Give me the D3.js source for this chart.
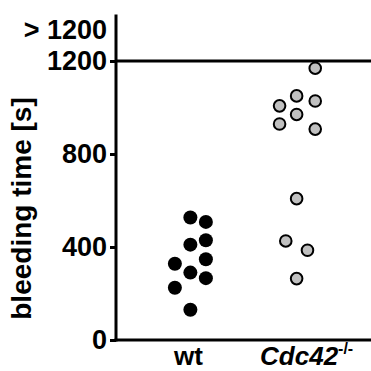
<!DOCTYPE html>
<html>
<head>
<meta charset="utf-8">
<script src="https://cdn.jsdelivr.net/npm/d3@7"></script>
<style>
  html, body { margin: 0; padding: 0; background: #fff; }
  svg { display: block; font-family: "Liberation Sans", Arial, sans-serif; font-weight: bold; }
</style>
</head>
<body>
<svg id="chart" width="371" height="371"></svg>
<script>
// ---- data ----
const categories = ["wt", "Cdc42"];
const wtValues  = [527, 508, 429, 410, 328, 347, 290, 266, 225, 130];
const wtJitter  = [0, 1, 1, 0, -1, 1, 0, 1, -1, 0];
const cdcValues = [1169, 1050, 1028, 1007, 970, 929, 907, 608, 426, 386, 264];
const cdcJitter = [1.2, 0, 1.2, -1.1, 0, -1.1, 1.2, 0, -0.7, 0.7, 0];
const yTickValues = [0, 400, 800, 1200];
const overLabel = "> 1200";
const overValue = 1335;
const yTitle = "bleeding time [s]";

// ---- layout ----
const svg = d3.select("#chart");
const mLeft = 116, mRight = 371, mTop = 14.5, mBottom = 340;
const FS = 27;

const y = d3.scaleLinear().domain([0, 1400]).range([mBottom, mTop]);
const x = d3.scalePoint().domain(categories).range([mLeft, mRight]).padding(0.7);
const jit = d3.scaleLinear().domain([-1, 1]).range([-15.5, 15.5]);

// y axis
const yAxis = d3.axisLeft(y).tickValues(yTickValues).tickSize(6).tickPadding(3).tickFormat(d3.format("d"));
const gy = svg.append("g").attr("transform", `translate(${mLeft},0)`).call(yAxis);
gy.select(".domain").remove();
gy.selectAll(".tick line").attr("stroke", "#000").attr("stroke-width", 3);
gy.selectAll(".tick text").attr("font-size", FS).attr("font-weight", "bold").attr("fill", "#000")
  .attr("font-family", "Liberation Sans, Arial, sans-serif");

// vertical axis line
svg.append("line").attr("x1", mLeft).attr("x2", mLeft).attr("y1", mTop).attr("y2", mBottom + 1.5)
  .attr("stroke", "#000").attr("stroke-width", 3);
// bottom line
svg.append("line").attr("x1", mLeft - 1.5).attr("x2", mRight).attr("y1", y(0)).attr("y2", y(0))
  .attr("stroke", "#000").attr("stroke-width", 3);
// 1200 line
svg.append("line").attr("x1", mLeft).attr("x2", mRight).attr("y1", y(1200)).attr("y2", y(1200))
  .attr("stroke", "#000").attr("stroke-width", 3);

// > 1200 label
svg.append("text").attr("x", mLeft - 9).attr("y", y(overValue)).attr("dy", "0.35em")
  .attr("text-anchor", "end").attr("font-size", FS).text(overLabel);

// y title
svg.append("text")
  .attr("transform", `translate(31,${(y(0) + y(1200)) / 2 + 8}) rotate(-90)`)
  .attr("text-anchor", "middle").attr("font-size", 28).text(yTitle);

// x labels
svg.append("text").attr("x", x("wt") - 2).attr("y", 365).attr("text-anchor", "middle")
  .attr("font-size", 26).text("wt");
const ct = svg.append("text").attr("x", x("Cdc42") + 10).attr("y", 365).attr("text-anchor", "middle")
  .attr("font-size", 26);
ct.append("tspan").attr("font-style", "italic").text("Cdc42");
ct.append("tspan").attr("font-size", 16).attr("dy", -11).text("-/-");

// points
svg.append("g").selectAll("circle").data(wtValues).join("circle")
  .attr("cx", (d, i) => x("wt") + jit(wtJitter[i]))
  .attr("cy", d => y(d))
  .attr("r", 7)
  .attr("fill", "#000");

svg.append("g").selectAll("circle").data(cdcValues).join("circle")
  .attr("cx", (d, i) => x("Cdc42") + jit(cdcJitter[i]))
  .attr("cy", d => y(d))
  .attr("r", 5.8)
  .attr("fill", "#c0c0c0")
  .attr("stroke", "#000")
  .attr("stroke-width", 2);
</script>
</body>
</html>
